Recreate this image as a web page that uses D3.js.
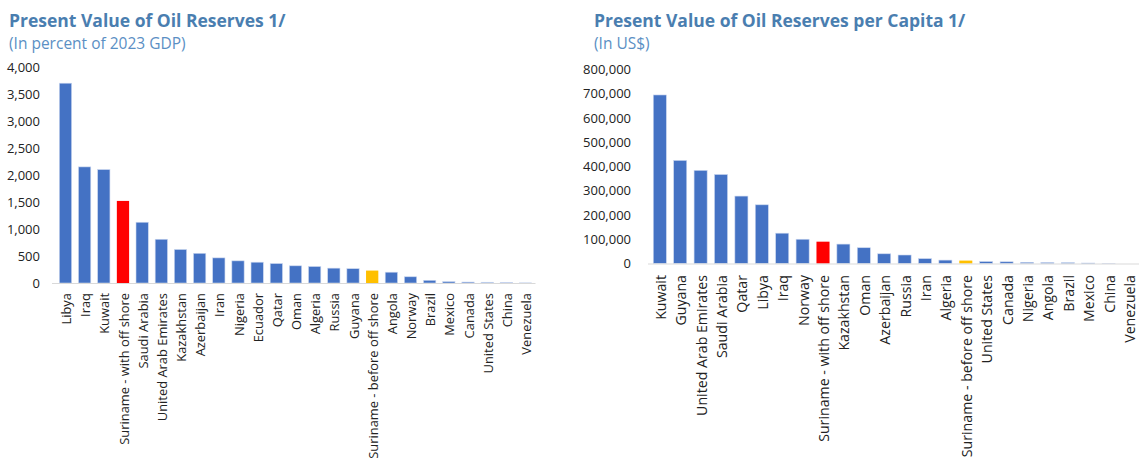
<!DOCTYPE html>
<html>
<head>
<meta charset="utf-8">
<script src="https://cdn.jsdelivr.net/npm/d3@7"></script>
<style>
  body { margin: 0; background: #fff; }
  svg { display: block; font-family: "Open Sans", sans-serif; }
</style>
</head>
<body>
<div class="charts"></div>
<script>
// left chart: percent of 2023 GDP
const gdpCategories = ["Libya", "Iraq", "Kuwait", "Suriname - with off shore", "Saudi Arabia",
  "United Arab Emirates", "Kazakhstan", "Azerbaijan", "Iran", "Nigeria", "Ecuador", "Qatar",
  "Oman", "Algeria", "Russia", "Guyana", "Suriname - before off shore", "Angola", "Norway",
  "Brazil", "Mexico", "Canada", "United States", "China", "Venezuela"]
const gdpValues = [3700, 2150, 2100, 1520, 1125, 810, 620, 550, 465, 410, 385, 360,
  318, 305, 275, 265, 230, 200, 115, 50, 25, 18, 14, 9, 2]
const gdpTicks = [0, 500, 1000, 1500, 2000, 2500, 3000, 3500, 4000]

// right chart: per capita, US$
const capCategories = ["Kuwait", "Guyana", "United Arab Emirates", "Saudi Arabia", "Qatar",
  "Libya", "Iraq", "Norway", "Suriname - with off shore", "Kazakhstan", "Oman", "Azerbaijan",
  "Russia", "Iran", "Algeria", "Suriname - before off shore", "United States", "Canada",
  "Nigeria", "Angola", "Brazil", "Mexico", "China", "Venezuela"]
const capValues = [695000, 425000, 384000, 367000, 278000, 242000, 125000, 100000, 90000,
  80000, 65000, 40000, 35000, 20000, 14000, 12000, 8000, 7000, 5000, 4000, 3500, 2000, 500, 0]
const capTicks = [0, 100000, 200000, 300000, 400000, 500000, 600000, 700000, 800000]

const width = 1139
const height = 462

const svg = d3
  .select(".charts")
  .append("svg")
  .attr("width", width)
  .attr("height", height)

const colorFor = (name) => {
  if (name === "Suriname - with off shore") return "#ff0000"
  if (name === "Suriname - before off shore") return "#ffc000"
  return "#4472c4"
}

function drawChart(cfg) {
  const g = svg.append("g")

  // titles
  g.append("text")
    .attr("x", cfg.titleX)
    .attr("y", 27)
    .attr("font-size", "17.5px")
    .attr("font-weight", "bold")
    .attr("fill", "#4a7eb0")
    .text(cfg.title)

  g.append("text")
    .attr("x", cfg.titleX)
    .attr("y", 49)
    .attr("font-size", "15.5px")
    .attr("fill", "#5b8fc4")
    .text(cfg.subtitle)

  const x = d3
    .scaleBand()
    .domain(cfg.categories)
    .range([cfg.left, cfg.right])
    .paddingInner(0.36)
    .paddingOuter(0.2)

  const y = d3
    .scaleLinear()
    .domain([0, cfg.ticks[cfg.ticks.length - 1]])
    .range([cfg.zero, cfg.top])

  // y axis labels, no line
  const yAxis = g
    .append("g")
    .attr("transform", `translate(${cfg.labelX},0)`)
    .call(d3.axisLeft(y).tickValues(cfg.ticks).tickSize(0).tickFormat(d3.format(",")))
  yAxis.select(".domain").remove()
  yAxis.selectAll("text")
    .attr("font-size", "13px")
    .attr("font-family", "Open Sans, sans-serif")
    .attr("fill", "#222")
    .attr("dx", 0)

  // bars
  g.append("g")
    .selectAll("rect")
    .data(cfg.categories.map((c, i) => ({ name: c, value: cfg.values[i] })))
    .join("rect")
    .attr("x", (d) => x(d.name))
    .attr("width", x.bandwidth())
    .attr("y", (d) => y(d.value))
    .attr("height", (d) => y(0) - y(d.value))
    .attr("fill", (d) => colorFor(d.name))
    .attr("stroke", (d) => (colorFor(d.name) === "#4472c4" ? "#c9d6ef" : "none"))
    .attr("stroke-width", 0.6)

  // x axis line + rotated labels
  const xAxis = g
    .append("g")
    .attr("transform", `translate(0,${cfg.zero})`)
    .call(d3.axisBottom(x).tickSize(0).tickSizeOuter(0))
  xAxis.select(".domain")
    .attr("d", `M${cfg.axisStart},0.5H${cfg.right}`)
    .attr("stroke", "#d9d9d9")
    .attr("stroke-width", 1.2)
  const labels = xAxis.selectAll("text")
    .attr("font-size", "13px")
    .attr("font-family", "Open Sans, sans-serif")
    .attr("fill", "#222")
    .attr("text-anchor", "end")
    .attr("transform", "rotate(-90)")
    .attr("x", -cfg.labelGap)
    .attr("y", 1)
    .attr("dy", "0.35em")

  // size the labels so the "with off shore" label matches the reference length
  const probe = labels.filter((d) => d === "Suriname - with off shore").node()
  const size = (13 * cfg.probeLength) / probe.getComputedTextLength()
  labels.attr("font-size", `${size}px`)
}

drawChart({
  title: "Present Value of Oil Reserves 1/",
  subtitle: "(In percent of 2023 GDP)",
  titleX: 9,
  categories: gdpCategories,
  values: gdpValues,
  ticks: gdpTicks,
  left: 55.5,
  right: 535.5,
  axisStart: 52,
  zero: 283,
  top: 67,
  labelX: 43,
  labelGap: 10,
  probeLength: 152,
})

drawChart({
  title: "Present Value of Oil Reserves per Capita 1/",
  subtitle: "(In US$)",
  titleX: 594,
  categories: capCategories,
  values: capValues,
  ticks: capTicks,
  left: 649.2,
  right: 1139.6,
  axisStart: 648,
  zero: 263.5,
  top: 69.5,
  labelX: 634,
  labelGap: 11.5,
  probeLength: 167,
})
</script>
</body>
</html>
